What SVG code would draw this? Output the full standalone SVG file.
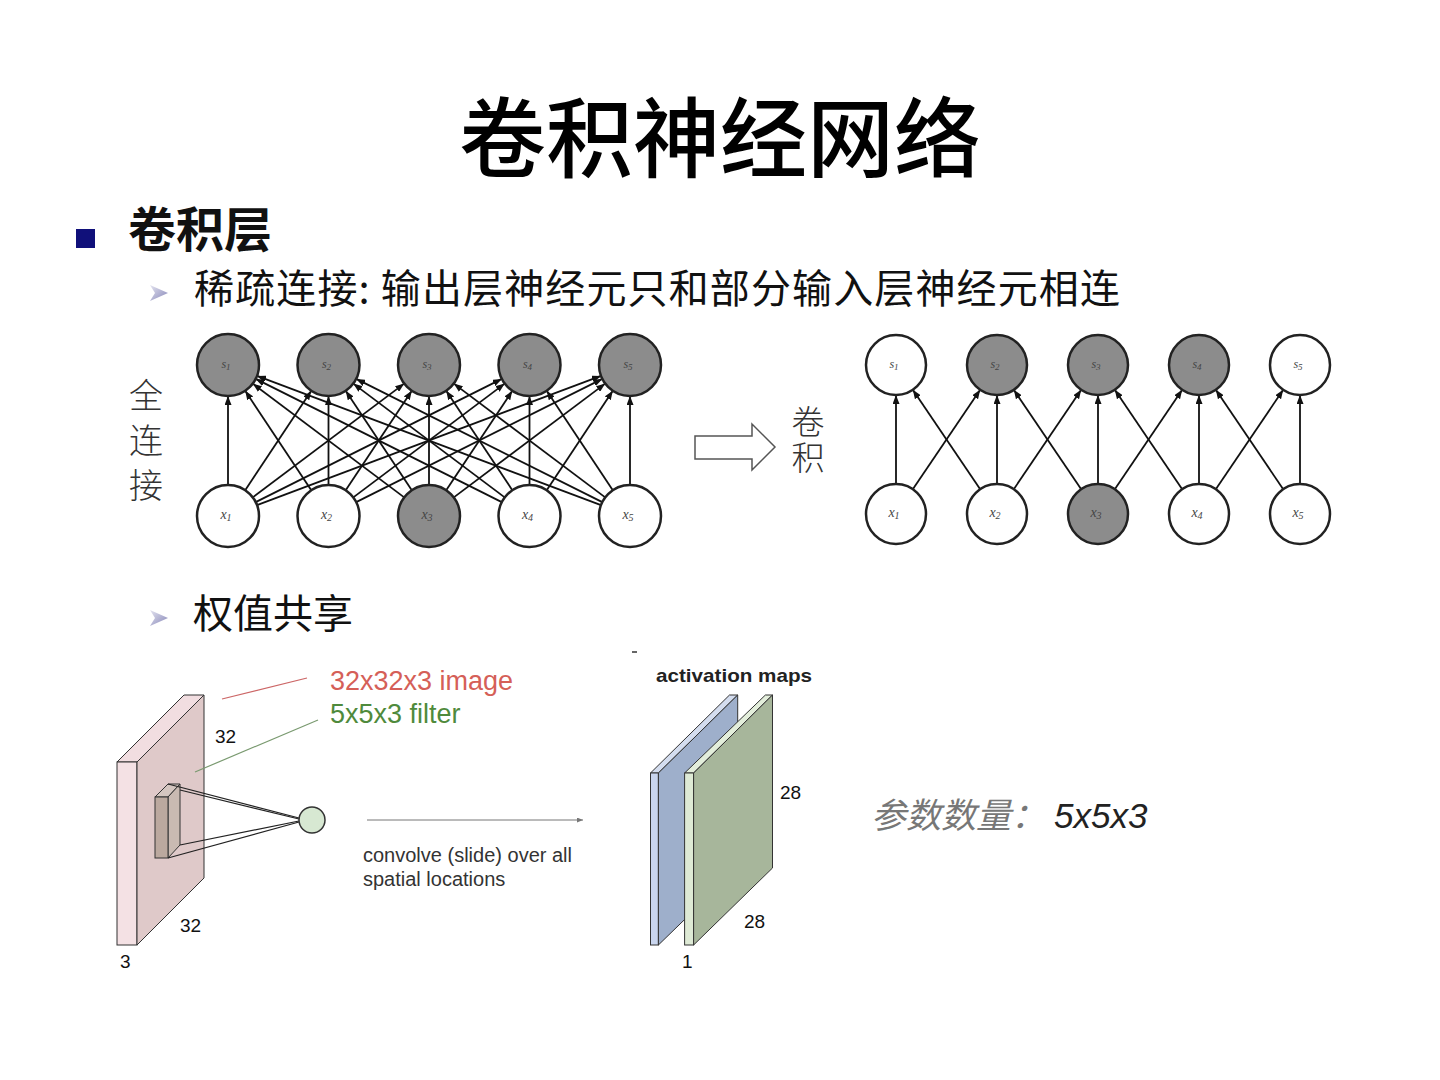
<svg xmlns="http://www.w3.org/2000/svg" width="1440" height="1080" viewBox="0 0 1440 1080">
<style>
.cjk{font-family:"Noto Sans CJK SC","Noto Sans",sans-serif;}
.sans{font-family:"Liberation Sans",Arial,sans-serif;}
.node{stroke:#222;stroke-width:2.5;}
.g{fill:#8c8c8c;}
.w{fill:#ffffff;}
.lbl{font-family:"Liberation Serif","DejaVu Serif",serif;font-style:italic;fill:#444;text-anchor:middle;}
.conn line{stroke:#111;stroke-width:1.8;marker-end:url(#ah);}
.edge{stroke:#333;stroke-width:1;}
.dim{font-family:"Liberation Sans",Arial,sans-serif;font-size:19px;fill:#111;}
.vert{writing-mode:vertical-rl;}
</style>
<defs>
<marker id="ah" markerUnits="userSpaceOnUse" markerWidth="9" markerHeight="7" refX="9" refY="3.5" orient="auto">
<path d="M0,0 L9,3.5 L0,7 z" fill="#111"/>
</marker>
<marker id="ah2" markerUnits="userSpaceOnUse" markerWidth="6" markerHeight="5" refX="6" refY="2.5" orient="auto">
<path d="M0,0 L6,2.5 L0,5 z" fill="#777"/>
</marker>
<linearGradient id="bul" x1="0" y1="0" x2="1" y2="1">
<stop offset="0" stop-color="#e4e4f0"/>
<stop offset="1" stop-color="#8686b8"/>
</linearGradient>
</defs>

<rect width="1440" height="1080" fill="#ffffff"/>

<!-- Title -->
<text class="cjk" x="720" y="171" font-size="87" font-weight="500" text-anchor="middle" fill="#000">卷积神经网络</text>

<!-- Bullets -->
<rect x="76" y="229" width="19" height="19" fill="#10107a"/>
<text class="cjk" x="128" y="247" font-size="48" font-weight="700" fill="#111">卷积层</text>
<polygon points="150,285 168,293 150,301 155,293" fill="url(#bul)"/>
<text class="cjk" x="194" y="303" font-size="40" fill="#111" textLength="926" lengthAdjust="spacing">稀疏连接: 输出层神经元只和部分输入层神经元相连</text>
<polygon points="150,610 168,618 150,626 155,618" fill="url(#bul)"/>
<text class="cjk" x="193" y="628" font-size="40" fill="#111">权值共享</text>

<!-- Side labels (vertical) -->
<text class="cjk vert" x="146" y="378" font-size="34" font-weight="300" fill="#333" letter-spacing="11">全连接</text>
<text class="cjk vert" x="808" y="405" font-size="33" font-weight="300" fill="#333" letter-spacing="3">卷积</text>

<!-- Hollow arrow -->
<polygon points="695,436 752,436 752,424 775,447 752,470 752,459 695,459" fill="#fff" stroke="#555" stroke-width="1.5"/>

<!-- Connectors: full connection -->
<g class="conn" id="conn-full">
<line x1="228" y1="485" x2="228" y2="396"/>
<line x1="245.2" y1="490.2" x2="311.3" y2="390.8"/>
<line x1="252.8" y1="497.4" x2="404.2" y2="383.6"/>
<line x1="255.7" y1="502.1" x2="501.8" y2="378.9"/>
<line x1="257" y1="505.1" x2="601" y2="375.9"/>
<line x1="311.3" y1="490.2" x2="245.2" y2="390.8"/>
<line x1="328.5" y1="485" x2="328.5" y2="396"/>
<line x1="345.7" y1="490.2" x2="411.8" y2="390.8"/>
<line x1="353.3" y1="497.4" x2="504.7" y2="383.6"/>
<line x1="356.2" y1="502.1" x2="602.3" y2="378.9"/>
<line x1="404.2" y1="497.4" x2="252.8" y2="383.6"/>
<line x1="411.8" y1="490.2" x2="345.7" y2="390.8"/>
<line x1="429" y1="485" x2="429" y2="396"/>
<line x1="446.2" y1="490.2" x2="512.3" y2="390.8"/>
<line x1="453.8" y1="497.4" x2="605.2" y2="383.6"/>
<line x1="501.8" y1="502.1" x2="255.7" y2="378.9"/>
<line x1="504.7" y1="497.4" x2="353.3" y2="383.6"/>
<line x1="512.3" y1="490.2" x2="446.2" y2="390.8"/>
<line x1="529.5" y1="485" x2="529.5" y2="396"/>
<line x1="546.7" y1="490.2" x2="612.8" y2="390.8"/>
<line x1="601" y1="505.1" x2="257" y2="375.9"/>
<line x1="602.3" y1="502.1" x2="356.2" y2="378.9"/>
<line x1="605.2" y1="497.4" x2="453.8" y2="383.6"/>
<line x1="612.8" y1="490.2" x2="546.7" y2="390.8"/>
<line x1="630" y1="485" x2="630" y2="396"/>
</g>

<!-- Connectors: convolution -->
<g class="conn" id="conn-conv">
<line x1="896" y1="484" x2="896" y2="395"/>
<line x1="912.8" y1="489.2" x2="980.2" y2="389.8"/>
<line x1="980.2" y1="489.2" x2="912.8" y2="389.8"/>
<line x1="997" y1="484" x2="997" y2="395"/>
<line x1="1013.8" y1="489.2" x2="1081.2" y2="389.8"/>
<line x1="1081.2" y1="489.2" x2="1013.8" y2="389.8"/>
<line x1="1098" y1="484" x2="1098" y2="395"/>
<line x1="1114.8" y1="489.2" x2="1182.2" y2="389.8"/>
<line x1="1182.2" y1="489.2" x2="1114.8" y2="389.8"/>
<line x1="1199" y1="484" x2="1199" y2="395"/>
<line x1="1215.8" y1="489.2" x2="1283.2" y2="389.8"/>
<line x1="1283.2" y1="489.2" x2="1215.8" y2="389.8"/>
<line x1="1300" y1="484" x2="1300" y2="395"/>
</g>

<!-- Left network nodes -->
<g id="L-s1"><circle class="node g" cx="228" cy="365" r="31"/><text class="lbl" x="226" y="368" font-size="12">s<tspan font-size="9" dy="2">1</tspan></text></g>
<g id="L-s2"><circle class="node g" cx="328.5" cy="365" r="31"/><text class="lbl" x="326.5" y="368" font-size="12">s<tspan font-size="9" dy="2">2</tspan></text></g>
<g id="L-s3"><circle class="node g" cx="429" cy="365" r="31"/><text class="lbl" x="427" y="368" font-size="12">s<tspan font-size="9" dy="2">3</tspan></text></g>
<g id="L-s4"><circle class="node g" cx="529.5" cy="365" r="31"/><text class="lbl" x="527.5" y="368" font-size="12">s<tspan font-size="9" dy="2">4</tspan></text></g>
<g id="L-s5"><circle class="node g" cx="630" cy="365" r="31"/><text class="lbl" x="628" y="368" font-size="12">s<tspan font-size="9" dy="2">5</tspan></text></g>
<g id="L-x1"><circle class="node w" cx="228" cy="516" r="31"/><text class="lbl" x="226" y="519" font-size="14">x<tspan font-size="10" dy="2">1</tspan></text></g>
<g id="L-x2"><circle class="node w" cx="328.5" cy="516" r="31"/><text class="lbl" x="326.5" y="519" font-size="14">x<tspan font-size="10" dy="2">2</tspan></text></g>
<g id="L-x3"><circle class="node g" cx="429" cy="516" r="31"/><text class="lbl" x="427" y="519" font-size="14">x<tspan font-size="10" dy="2">3</tspan></text></g>
<g id="L-x4"><circle class="node w" cx="529.5" cy="516" r="31"/><text class="lbl" x="527.5" y="519" font-size="14">x<tspan font-size="10" dy="2">4</tspan></text></g>
<g id="L-x5"><circle class="node w" cx="630" cy="516" r="31"/><text class="lbl" x="628" y="519" font-size="14">x<tspan font-size="10" dy="2">5</tspan></text></g>

<!-- Right network nodes -->
<g id="R-s1"><circle class="node w" cx="896" cy="365" r="30"/><text class="lbl" x="894" y="368" font-size="12">s<tspan font-size="9" dy="2">1</tspan></text></g>
<g id="R-s2"><circle class="node g" cx="997" cy="365" r="30"/><text class="lbl" x="995" y="368" font-size="12">s<tspan font-size="9" dy="2">2</tspan></text></g>
<g id="R-s3"><circle class="node g" cx="1098" cy="365" r="30"/><text class="lbl" x="1096" y="368" font-size="12">s<tspan font-size="9" dy="2">3</tspan></text></g>
<g id="R-s4"><circle class="node g" cx="1199" cy="365" r="30"/><text class="lbl" x="1197" y="368" font-size="12">s<tspan font-size="9" dy="2">4</tspan></text></g>
<g id="R-s5"><circle class="node w" cx="1300" cy="365" r="30"/><text class="lbl" x="1298" y="368" font-size="12">s<tspan font-size="9" dy="2">5</tspan></text></g>
<g id="R-x1"><circle class="node w" cx="896" cy="514" r="30"/><text class="lbl" x="894" y="517" font-size="14">x<tspan font-size="10" dy="2">1</tspan></text></g>
<g id="R-x2"><circle class="node w" cx="997" cy="514" r="30"/><text class="lbl" x="995" y="517" font-size="14">x<tspan font-size="10" dy="2">2</tspan></text></g>
<g id="R-x3"><circle class="node g" cx="1098" cy="514" r="30"/><text class="lbl" x="1096" y="517" font-size="14">x<tspan font-size="10" dy="2">3</tspan></text></g>
<g id="R-x4"><circle class="node w" cx="1199" cy="514" r="30"/><text class="lbl" x="1197" y="517" font-size="14">x<tspan font-size="10" dy="2">4</tspan></text></g>
<g id="R-x5"><circle class="node w" cx="1300" cy="514" r="30"/><text class="lbl" x="1298" y="517" font-size="14">x<tspan font-size="10" dy="2">5</tspan></text></g>

<!-- Input image slab -->
<g id="image-slab">
<polygon class="edge" points="117,762 137,762 204,695 184,695" fill="#f1dde0"/>
<rect class="edge" x="117" y="762" width="20" height="183" fill="#f4e1e4"/>
<polygon class="edge" points="137,762 204,695 204,878 137,945" fill="#dfc9c9"/>
</g>
<g id="filter">
<polygon class="edge" points="155,797 168,784 180,784 168,797" fill="#d4c6c0" stroke-width="0.6"/>
<polygon class="edge" points="168,797 180,784 180,845 168,858" fill="#c9bab2" stroke-width="0.6"/>
<rect class="edge" x="155" y="797" width="13" height="61" fill="#bba99f" stroke-width="0.6"/>
</g>
<g id="filter-lines" stroke="#222" stroke-width="1.2">
<line x1="168" y1="784" x2="299" y2="818"/>
<line x1="180" y1="790" x2="299" y2="819"/>
<line x1="168" y1="858" x2="299" y2="822"/>
<line x1="180" y1="845" x2="299" y2="821"/>
</g>
<g id="neuron"><circle cx="312" cy="820" r="13" fill="#d7e8d2" stroke="#333" stroke-width="1.5"/></g>

<line x1="307" y1="678" x2="222" y2="699" stroke="#cc6666" stroke-width="1.2"/>
<line x1="318" y1="720" x2="195" y2="772" stroke="#7a9a70" stroke-width="1.2"/>
<text class="sans" x="330" y="690" font-size="27" fill="#d55f58">32x32x3 image</text>
<text class="sans" x="330" y="723" font-size="27" fill="#4f8a3c">5x5x3 filter</text>
<text class="dim" x="215" y="743">32</text>
<text class="dim" x="180" y="932">32</text>
<text class="dim" x="120" y="968">3</text>

<!-- convolve arrow -->
<line x1="367" y1="820" x2="583" y2="820" stroke="#777" stroke-width="1" marker-end="url(#ah2)"/>
<text class="sans" font-size="20" fill="#333"><tspan x="363" y="862">convolve (slide) over all</tspan><tspan x="363" y="886">spatial locations</tspan></text>

<!-- activation maps -->
<line x1="632" y1="652" x2="637" y2="652" stroke="#333" stroke-width="1.5"/>
<text class="sans" x="656" y="682" font-size="19" font-weight="700" fill="#222" textLength="156" lengthAdjust="spacingAndGlyphs">activation maps</text>
<g id="map-blue">
<polygon class="edge" points="650.5,773 658.4,773 737.7,695 729.5,695" fill="#d4ddef"/>
<rect class="edge" x="650.5" y="773" width="7.9" height="172" fill="#c9d5ee"/>
<polygon class="edge" points="658.4,773 737.7,695 737.7,868 658.4,945" fill="#9eafcb"/>
</g>
<g id="map-green">
<polygon class="edge" points="684.6,773 693.6,773 772.5,695 765.4,695" fill="#e3eedb"/>
<rect class="edge" x="684.6" y="773" width="9" height="172" fill="#deead5"/>
<polygon class="edge" points="693.6,773 772.5,695 772.5,868 693.6,945" fill="#a7b69b"/>
</g>
<text class="dim" x="780" y="799">28</text>
<text class="dim" x="744" y="928">28</text>
<text class="dim" x="682" y="968">1</text>

<!-- parameter count -->
<text x="871" y="828" font-size="35" font-style="italic"><tspan class="cjk" fill="#777">参数数量：</tspan><tspan class="sans" fill="#222" dx="8">5x5x3</tspan></text>
</svg>
